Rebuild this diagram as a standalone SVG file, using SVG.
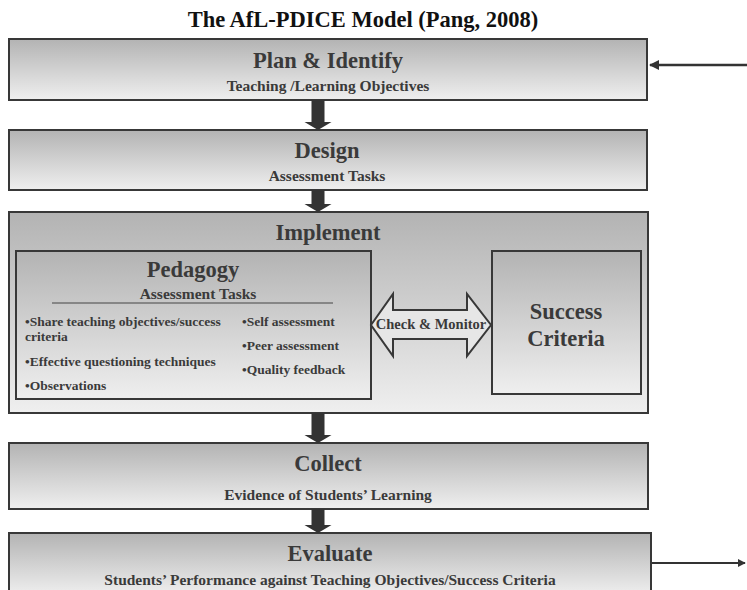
<svg xmlns="http://www.w3.org/2000/svg" width="747" height="590" viewBox="0 0 747 590">
<defs>
<linearGradient id="g" x1="0" y1="0" x2="0" y2="1">
<stop offset="0" stop-color="#b3b3b3"/>
<stop offset="1" stop-color="#efefef"/>
</linearGradient>
<marker id="ah" viewBox="0 0 10 10" refX="9" refY="5" markerWidth="4" markerHeight="4" orient="auto-start-reverse" markerUnits="strokeWidth">
<path d="M0,0 L10,5 L0,10 Z" fill="#333"/>
</marker>
<style>
.box{fill:url(#g);stroke:#383838;stroke-width:2}
.t{font-family:"Liberation Serif","Times New Roman",serif;font-weight:bold;fill:#3a3a3a}
.big{font-size:22.5px}
.sub{font-size:15.5px}
.bl{font-size:13.5px}
.c{text-anchor:middle}
.fa{fill:#333}
</style>
</defs>
<rect width="747" height="590" fill="#ffffff"/>
<text class="t c" x="363" y="27" font-size="22.5" style="fill:#111">The AfL-PDICE Model (Pang, 2008)</text>

<g id="plan">
<rect class="box" x="9" y="39" width="638" height="61"/>
<text class="t big c" x="328" y="68">Plan &amp; Identify</text>
<text class="t sub c" x="328" y="91">Teaching /Learning Objectives</text>
</g>
<g id="design">
<rect class="box" x="9" y="130" width="638" height="60"/>
<text class="t big c" x="327" y="158">Design</text>
<text class="t sub c" x="327" y="181">Assessment Tasks</text>
</g>
<g id="implement">
<rect class="box" x="9" y="212" width="639" height="201"/>
<text class="t big c" x="328" y="240">Implement</text>
</g>
<g id="pedagogy">
<rect class="box" x="16" y="251" width="355" height="148"/>
<text class="t big c" x="193" y="277">Pedagogy</text>
<text class="t sub c" x="198" y="299">Assessment Tasks</text>
<line x1="52" y1="303" x2="333" y2="303" stroke="#444" stroke-width="1"/>
<text class="t bl" x="25" y="326">•Share teaching objectives/success</text>
<text class="t bl" x="25" y="341">criteria</text>
<text class="t bl" x="25" y="366">•Effective questioning techniques</text>
<text class="t bl" x="25" y="390">•Observations</text>
<text class="t bl" x="242" y="326">•Self assessment</text>
<text class="t bl" x="242" y="350">•Peer assessment</text>
<text class="t bl" x="242" y="374">•Quality feedback</text>
</g>
<g id="success">
<rect class="box" x="492" y="251" width="149" height="143"/>
<text class="t big c" x="566" y="319">Success</text>
<text class="t big c" x="566" y="346">Criteria</text>
</g>
<g id="collect">
<rect class="box" x="9" y="443" width="639" height="66"/>
<text class="t big c" x="328" y="471">Collect</text>
<text class="t sub c" x="328" y="500">Evidence of Students’ Learning</text>
</g>
<g id="evaluate">
<rect class="box" x="9" y="533" width="642" height="62"/>
<text class="t big c" x="330" y="561">Evaluate</text>
<text class="t sub c" x="330" y="585">Students’ Performance against Teaching Objectives/Success Criteria</text>
</g>

<g id="connectors">
<path class="fa" d="M311.5,100 H324.5 V122 H331.5 L318,130 L304.5,122 H311.5 Z"/>
<path class="fa" d="M311.5,190 H324.5 V204 H331.5 L318,212 L304.5,204 H311.5 Z"/>
<path class="fa" d="M311.5,413 H324.5 V435 H331.5 L318,443 L304.5,435 H311.5 Z"/>
<path class="fa" d="M311.5,509 H324.5 V525 H331.5 L318,533 L304.5,525 H311.5 Z"/>
<path d="M371,325 L393,294 V310 H467 V294 L491,325 L467,356 V339 H393 V356 Z" fill="#e6e6e6" stroke="#383838" stroke-width="2" stroke-linejoin="miter"/>
<text class="t c" x="431" y="329" font-size="14.5">Check &amp; Monitor</text>
<line x1="747" y1="65" x2="650" y2="65" stroke="#333" stroke-width="2.5" marker-end="url(#ah)"/>
<line x1="652" y1="563" x2="745" y2="563" stroke="#333" stroke-width="2" marker-end="url(#ah)"/>
</g>
</svg>
